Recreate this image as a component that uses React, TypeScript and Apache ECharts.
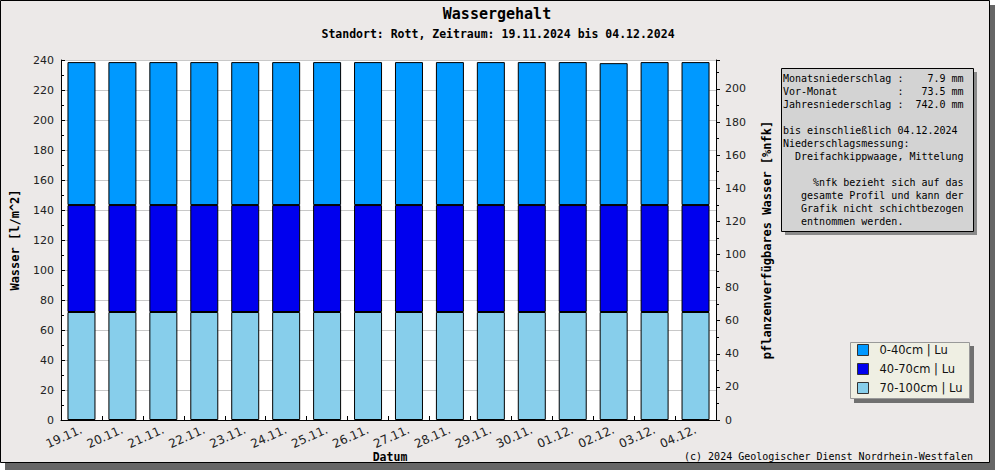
import React, { useEffect, useRef } from "react";
import * as echarts from "echarts";

const categories = ["19.11.", "20.11.", "21.11.", "22.11.", "23.11.", "24.11.", "25.11.", "26.11.", "27.11.", "28.11.", "29.11.", "30.11.", "01.12.", "02.12.", "03.12.", "04.12."];
const layer70to100 = [72, 72, 72, 72, 72, 72, 72, 72, 72, 72, 72, 72, 72, 72, 72, 72];
const layer40to70 = [71.3, 71.3, 71.3, 71.3, 71.3, 71.3, 71.3, 71.3, 71.3, 71.3, 71.3, 71.3, 71.3, 71.3, 71.3, 71.3];
const layer0to40 = [95.3, 95.3, 95.3, 95.3, 95.3, 95.3, 95.3, 95.3, 95.3, 95.3, 95.3, 95.3, 95.3, 94.6, 95.3, 95.3];
const seriesNames = ["0-40cm | Lu", "40-70cm | Lu", "70-100cm | Lu"];
const seriesColors = ["#0099FF", "#0000EE", "#87CEEB"];
const infoLines = [
  "Monatsniederschlag :    7.9 mm",
  "Vor-Monat          :   73.5 mm",
  "Jahresniederschlag :  742.0 mm",
  "",
  "bis einschließlich 04.12.2024",
  "Niederschlagsmessung:",
  "  Dreifachkippwaage, Mittelung",
  "",
  "     %nfk bezieht sich auf das",
  "   gesamte Profil und kann der",
  "   Grafik nicht schichtbezogen",
  "   entnommen werden.",
];

const MONO = "'DejaVu Sans Mono', monospace";
const SANS = "'DejaVu Sans', sans-serif";

export default function App() {
  const ref = useRef<HTMLDivElement>(null);
  useEffect(() => {
    if (!ref.current) return;
    const chart = echarts.init(ref.current, undefined, { renderer: "svg" });
    const nb = (s: string) => s.replace(/ /g, "\u00A0");
    const mkBar = (name: string, data: number[], color: string) => ({
      name,
      type: "bar",
      stack: "w",
      data,
      barWidth: 28,
      itemStyle: { color, borderColor: "#000", borderWidth: 1 },
    });
    chart.setOption({
      animation: false,
      backgroundColor: "#ffffff",
      grid: { left: 61, right: 279, top: 60, bottom: 50, show: true, backgroundColor: "#ffffff", borderWidth: 0 },
      legend: {
        orient: "vertical",
        left: 853,
        top: 340,
        itemWidth: 11,
        itemHeight: 11,
        itemGap: 7,
        padding: [4, 6, 4, 4],
        icon: "rect",
        data: seriesNames,
        textStyle: { fontFamily: SANS, fontSize: 11.5, color: "#111", padding: [0, 0, 0, 6] },
        itemStyle: { borderColor: "#333", borderWidth: 1 },
        z: 20,
      },
      xAxis: {
        type: "category",
        data: categories,
        axisLine: { lineStyle: { color: "#000", width: 1 } },
        axisTick: { show: true, inside: true, length: 4, lineStyle: { color: "#000" } },
        axisLabel: { interval: 0, rotate: 24, fontFamily: SANS, fontSize: 12, color: "#222", margin: 9 },
      },
      yAxis: [
        {
          type: "value",
          min: 0,
          max: 240,
          interval: 20,
          axisLine: { show: true, lineStyle: { color: "#000" } },
          axisTick: { show: true, inside: true, length: 4, lineStyle: { color: "#000" } },
          minorTick: { show: true, splitNumber: 2, length: 3, lineStyle: { color: "#000" } },
          axisLabel: { fontFamily: SANS, fontSize: 11, color: "#222", margin: 7 },
          splitLine: { show: true, lineStyle: { color: "#C8C8C8", width: 1 } },
        },
        {
          type: "value",
          position: "right",
          min: 0,
          max: 217.5,
          interval: 20,
          axisLine: { show: true, lineStyle: { color: "#000" } },
          axisTick: { show: true, length: 4, lineStyle: { color: "#000" } },
          minorTick: { show: true, splitNumber: 2, length: 3, lineStyle: { color: "#000" } },
          axisLabel: {
            fontFamily: SANS,
            fontSize: 11,
            color: "#222",
            margin: 9,
            showMaxLabel: false,
            formatter: (v: number) => (v % 20 === 0 ? String(v) : ""),
          },
          splitLine: { show: false },
        },
      ],
      series: [
        mkBar(seriesNames[2], layer70to100, seriesColors[2]),
        mkBar(seriesNames[1], layer40to70, seriesColors[1]),
        mkBar(seriesNames[0], layer0to40, seriesColors[0]),
      ],
      color: [seriesColors[2], seriesColors[1], seriesColors[0]],
      graphic: [
        { type: "rect", z: -20, silent: true, shape: { x: 5, y: 5, width: 990, height: 465 }, style: { fill: "#666666" } },
        { type: "rect", z: -19, silent: true, shape: { x: 0.5, y: 0.5, width: 989, height: 462 }, style: { fill: "#ECE9E8", stroke: "#000", lineWidth: 1 } },
        { type: "text", z: 5, x: 497, y: 14, style: { text: "Wassergehalt", font: `bold 15px ${MONO}`, fill: "#000", textAlign: "center", textVerticalAlign: "middle" } },
        { type: "text", z: 5, x: 498, y: 34, style: { text: "Standort: Rott, Zeitraum: 19.11.2024 bis 04.12.2024", font: `bold 11.5px ${MONO}`, fill: "#000", textAlign: "center", textVerticalAlign: "middle" } },
        { type: "text", z: 5, x: 15, y: 240, rotation: Math.PI / 2, style: { text: "Wasser [l/m^2]", font: `bold 12px ${MONO}`, fill: "#000", textAlign: "center", textVerticalAlign: "middle" } },
        { type: "text", z: 5, x: 767, y: 240, rotation: Math.PI / 2, style: { text: "pflanzenverfügbares Wasser [%nfk]", font: `bold 12px ${MONO}`, fill: "#000", textAlign: "center", textVerticalAlign: "middle" } },
        { type: "text", z: 5, x: 390, y: 457, style: { text: "Datum", font: `bold 11.5px ${MONO}`, fill: "#000", textAlign: "center", textVerticalAlign: "middle" } },
        { type: "text", z: 5, x: 973, y: 456, style: { text: "(c) 2024 Geologischer Dienst Nordrhein-Westfalen", font: `10px ${MONO}`, fill: "#000", textAlign: "right", textVerticalAlign: "middle" } },
        { type: "rect", z: 8, silent: true, shape: { x: 785, y: 72, width: 192, height: 163 }, style: { fill: "#8A8A8A" } },
        { type: "rect", z: 9, silent: true, shape: { x: 781.5, y: 68.5, width: 192, height: 163 }, style: { fill: "#D3D3D3", stroke: "#000", lineWidth: 1 } },
        ...infoLines.map((l, i) => ({
          type: "text",
          z: 10,
          x: 783,
          y: 78 + i * 13,
          style: { text: nb(l), font: `10px ${MONO}`, fill: "#000", textAlign: "left", textVerticalAlign: "middle" },
        })),
        { type: "rect", z: 15, silent: true, shape: { x: 854, y: 346, width: 120, height: 57 }, style: { fill: "#707070" } },
        { type: "rect", z: 16, silent: true, shape: { x: 850.5, y: 342.5, width: 119, height: 56 }, style: { fill: "#EFEFE3", stroke: "#999", lineWidth: 1 } },
      ],
    });
    return () => chart.dispose();
  }, []);
  return <div ref={ref} style={{ position: "absolute", left: 0, top: 0, width: 995, height: 470 }} />;
}
